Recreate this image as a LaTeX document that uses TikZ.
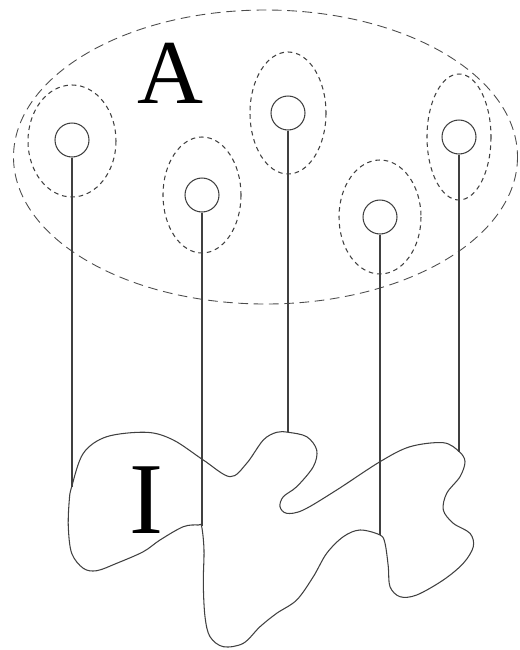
\documentclass[tikz,border=0pt]{standalone}
\usepackage{fontspec}
\setmainfont{Liberation Serif}
\begin{document}
\begin{tikzpicture}[x=0.02cm,y=-0.02cm,
  dot/.style={circle,draw=black!75,line width=0.6pt,minimum size=0.68cm,inner sep=0pt},
  halo/.style={draw=black!75,line width=0.6pt,dash pattern=on 2.6pt off 2.2pt},
  big/.style={draw=black!70,line width=0.5pt,dash pattern=on 5.5pt off 3.2pt},
  stem/.style={draw=black!75,line width=0.6pt},
  blob/.style={draw=black!75,line width=0.6pt}]
\useasboundingbox (0,0) rectangle (520,650);
% big dashed ellipse
\draw[big] (265.5,157) ellipse [x radius=252, y radius=147];
% halos
\draw[halo] (72,141) ellipse [x radius=44, y radius=56];
\draw[halo] (202,195) ellipse [x radius=39, y radius=58];
\draw[halo] (288,113) ellipse [x radius=38, y radius=61];
\draw[halo] (380,217) ellipse [x radius=41, y radius=57];
\draw[halo] (459,137) ellipse [x radius=32, y radius=63];
% dots
\node[dot] (c1) at (72,140) {};
\node[dot] (c2) at (202,195) {};
\node[dot] (c3) at (288,113) {};
\node[dot] (c4) at (380,217) {};
\node[dot] (c5) at (459,137) {};
% labels
\node[anchor=base,inner sep=0pt,font=\fontsize{52}{52}\selectfont] (A) at (170,103) {A};
\node[anchor=base,inner sep=0pt,font=\fontsize{58}{58}\selectfont] (I) at (146.5,533) {I};
% blob
\draw[blob] plot[smooth cycle,tension=0.55] coordinates {
(71.7,486.7) (83.3,453.3) (106.7,436.7) (146.7,432.3) (173.3,440) (203.3,460)
(230,476.7) (246.7,463.3) (263.3,440) (276.7,432.3) (288.3,432.3) (306.7,436.7)
(316.7,450) (313.3,466.7) (296.7,486.7) (283.3,496.7) (280,506.7) (286.7,513.3)
(303.3,510) (336.7,490) (380,461.7) (410,446.7) (443.3,442.7) (459.3,451.7)
(465,461.7) (460,476.7) (446.7,493.3) (443.3,510) (453.3,523.3) (470,533.3)
(473.3,546.7) (463.3,563.3) (443.3,580) (416.7,595) (400,596.7) (390,586.7)
(388.3,566.7) (385,543.3) (380,535) (360,530) (343.3,536.7) (326.7,553.3)
(313.3,576.7) (296.7,600) (276.7,613.3) (260,626.7) (243.3,643.3) (223.3,646.7)
(210,636.7) (205,616.7) (203.3,583.3) (204,550) (201.7,526.7) (198.3,525)
(183.3,526.7) (160,540) (143.3,551.7) (116.7,563.3) (96.7,570.7) (83.3,568.3)
(71.7,553.3) (68.3,526.7) (69.3,500)};
% stem endpoints on blob
\coordinate (e1) at (72,487);
\coordinate (e2) at (202,526);
\coordinate (e3) at (288,432.3);
\coordinate (e4) at (380,535);
\coordinate (e5) at (459,452);
\draw[stem] (c1.south) -- (e1);
\draw[stem] (c2.south) -- (e2);
\draw[stem] (c3.south) -- (e3);
\draw[stem] (c4.south) -- (e4);
\draw[stem] (c5.south) -- (e5);
\end{tikzpicture}
\end{document}
